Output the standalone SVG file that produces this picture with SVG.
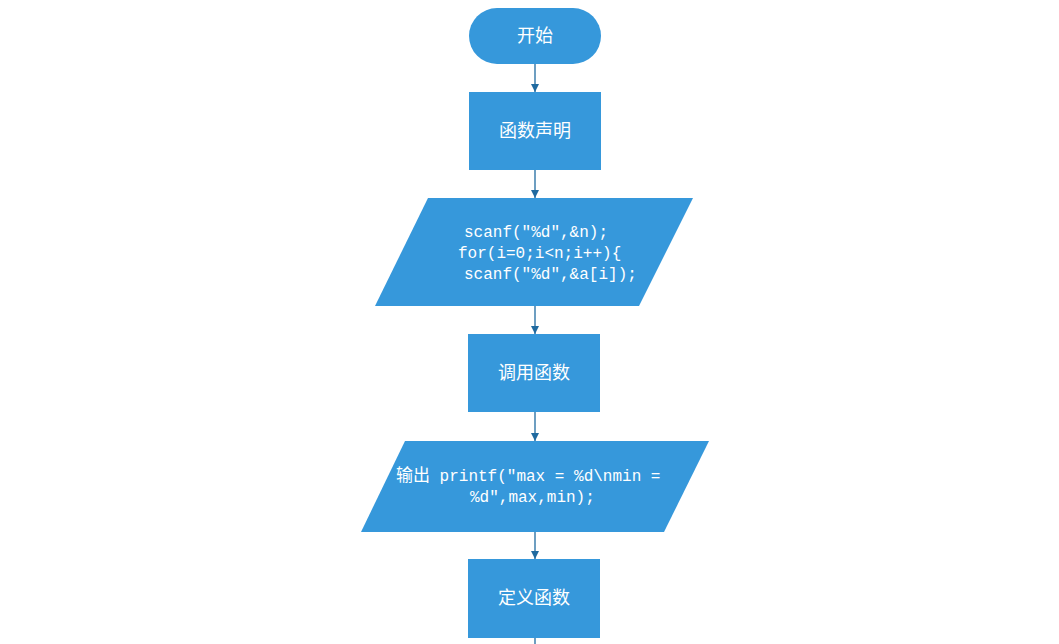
<svg xmlns="http://www.w3.org/2000/svg" width="1059" height="644" viewBox="0 0 1059 644">
<defs>
<style>
.shape{fill:#3698db;stroke:none}
.cn{font-family:"Noto Sans CJK SC","Noto Sans CJK JP",sans-serif;font-size:18px;fill:#ffffff;text-anchor:middle}
.code{font-family:"Liberation Mono","Noto Sans CJK SC",monospace;font-size:16px;fill:#ffffff}
.edge{stroke:#1f6aa0;stroke-width:1.3;fill:none;marker-end:url(#arr)}
</style>
<marker id="arr" viewBox="0 0 10 10" refX="10" refY="5" markerWidth="8" markerHeight="8" markerUnits="userSpaceOnUse" orient="auto">
<path d="M0,0 L10,5 L0,10 z" fill="#1f6aa0"/>
</marker>
</defs>
<rect width="1059" height="644" fill="#ffffff"/>
<g id="connectors">
<line class="edge" x1="535" y1="64" x2="535" y2="92"/>
<line class="edge" x1="535" y1="170" x2="535" y2="198"/>
<line class="edge" x1="535" y1="306" x2="535" y2="334"/>
<line class="edge" x1="535" y1="412" x2="535" y2="441"/>
<line class="edge" x1="535" y1="532" x2="535" y2="559"/>
<line x1="535" y1="638" x2="535" y2="644" stroke="#1f6aa0" stroke-width="1.3"/>
</g>
<g id="start">
<rect class="shape" x="469" y="8" width="132" height="56" rx="28" ry="28"/>
<text class="cn" x="535" y="42">开始</text>
</g>
<g id="declare">
<rect class="shape" x="469" y="92" width="132" height="78"/>
<text class="cn" x="535" y="137">函数声明</text>
</g>
<g id="input">
<polygon class="shape" points="428,198 693,198 639,306 375,306"/>
<text class="code" x="464" y="237">scanf("%d",&amp;n);</text>
<text class="code" x="458" y="258">for(i=0;i&lt;n;i++){</text>
<text class="code" x="464" y="279">scanf("%d",&amp;a[i]);</text>
</g>
<g id="call">
<rect class="shape" x="468" y="334" width="132" height="78"/>
<text class="cn" x="534" y="379">调用函数</text>
</g>
<g id="output">
<polygon class="shape" points="405,441 709,441 664,532 361,532"/>
<text class="code" x="396" y="481"><tspan font-family="Noto Sans CJK SC,sans-serif" font-size="17">输出</tspan> printf("max = %d\nmin =</text>
<text class="code" x="470" y="502">%d",max,min);</text>
</g>
<g id="define">
<rect class="shape" x="468" y="559" width="132" height="79"/>
<text class="cn" x="534" y="604">定义函数</text>
</g>
</svg>
